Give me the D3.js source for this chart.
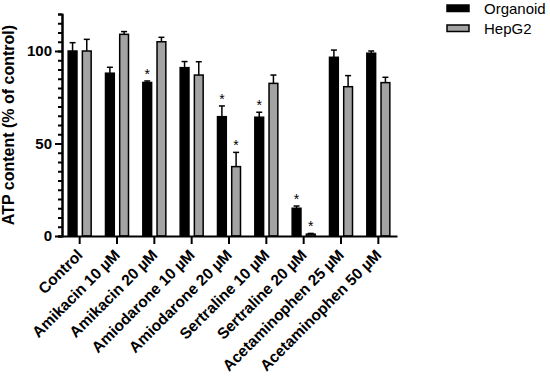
<!DOCTYPE html>
<html>
<head>
<meta charset="utf-8">
<script src="https://cdn.jsdelivr.net/npm/d3@7"></script>
<style>
    body { margin: 0; background: #fff; }
    svg { font-family: Arial, "Liberation Sans", sans-serif; }
    .axis path, .axis line { stroke: #000; stroke-width: 2px; }
    .axis text { font-weight: bold; fill: #000; }
</style>
</head>
<body>
<div id="chart"></div>
<script>
// data
let categories = ["Control", "Amikacin 10 µM", "Amikacin 20 µM", "Amiodarone 10 µM", "Amiodarone 20 µM",
    "Sertraline 10 µM", "Sertraline 20 µM", "Acetaminophen 25 µM", "Acetaminophen 50 µM"];
let seriesNames = ["Organoid", "HepG2"];
let organoid = [100, 88, 83, 91, 64.5, 64.2, 15, 96.6, 98.8];
let organoidErr = [4.5, 3.2, 0.8, 3.3, 5.8, 2.7, 1.2, 3.9, 1.2];
let hepg2 = [100, 109, 105, 87, 37.5, 82.5, 1, 80.7, 82.9];
let hepg2Err = [6.3, 1.5, 2.4, 7.2, 7.7, 4.5, 0.4, 6, 2.9];
let organoidSig = [false, false, true, false, true, true, true, false, false];
let hepg2Sig = [false, false, false, false, true, false, true, false, false];
let yTicks = [0, 50, 100];

let colors = {"Organoid": "#000000", "HepG2": "#a3a3a3"};

let width = 550, height = 377;

let svg = d3.select("#chart").append("svg")
    .attr("width", width)
    .attr("height", height);

// build rows
let rows = [];
categories.forEach((c, i) => {
    rows.push({cat: c, series: "Organoid", value: organoid[i], err: organoidErr[i], sig: organoidSig[i]});
    rows.push({cat: c, series: "HepG2", value: hepg2[i], err: hepg2Err[i], sig: hepg2Sig[i]});
});

// scales
let x = d3.scaleBand()
    .domain(categories)
    .range([61, 397]);

let xSub = d3.scaleBand()
    .domain(seriesNames)
    .range([-11.5, 11.5])
    .paddingInner(0.38);

let y = d3.scaleLinear()
    .domain([0, 120])
    .range([236, 14]);

// bars
svg.selectAll("rect.bar")
    .data(rows)
    .enter()
    .append("rect")
    .attr("class", "bar")
    .attr("x", d => x(d.cat) + x.bandwidth() / 2 + xSub(d.series))
    .attr("y", d => y(d.value))
    .attr("width", xSub.bandwidth())
    .attr("height", d => y(0) - y(d.value))
    .attr("fill", d => colors[d.series])
    .attr("stroke", "#000")
    .attr("stroke-width", 1.5);

// error bars (upper only)
let errG = svg.append("g").attr("stroke", "#000").attr("stroke-width", 1.5);
rows.forEach(d => {
    let cx = x(d.cat) + x.bandwidth() / 2 + xSub(d.series) + xSub.bandwidth() / 2;
    errG.append("line")
        .attr("x1", cx).attr("x2", cx)
        .attr("y1", y(d.value)).attr("y2", y(d.value + d.err));
    errG.append("line")
        .attr("x1", cx - 3).attr("x2", cx + 3)
        .attr("y1", y(d.value + d.err)).attr("y2", y(d.value + d.err));
});

// significance stars
svg.selectAll("text.star")
    .data(rows.filter(d => d.sig))
    .enter()
    .append("text")
    .attr("class", "star")
    .attr("x", d => x(d.cat) + x.bandwidth() / 2 + xSub(d.series) + xSub.bandwidth() / 2)
    .attr("y", d => y(d.value + d.err) - 2)
    .attr("text-anchor", "middle")
    .attr("fill", "#000")
    .style("font-size", "14px")
    .text("*");

// y axis with minor ticks
let yMinor = d3.axisLeft(y).tickValues(d3.range(0, 121, 5)).tickSize(4).tickFormat("");
svg.append("g")
    .attr("class", "axis")
    .attr("transform", "translate(62,0)")
    .call(yMinor)
    .call(g => g.selectAll("line").attr("stroke-width", 1.5));

let yAxis = d3.axisLeft(y).tickValues(yTicks).tickSize(7).tickPadding(3).tickSizeOuter(0);
svg.append("g")
    .attr("class", "axis")
    .attr("transform", "translate(62,0)")
    .call(yAxis)
    .call(g => g.selectAll("text").style("font-size", "15px"));

// x axis
let xAxis = d3.axisBottom(x).tickSize(8).tickSizeOuter(0).tickFormat("");
svg.append("g")
    .attr("class", "axis x-axis")
    .attr("transform", "translate(0,236)")
    .call(xAxis);

svg.append("g")
    .selectAll("text")
    .data(categories)
    .enter()
    .append("text")
    .attr("transform", d => `translate(${x(d) + x.bandwidth() / 2 + 4}, 256) rotate(-45)`)
    .attr("text-anchor", "end")
    .style("font-size", "15.5px")
    .style("font-weight", "bold")
    .text(d => d);

// y axis title
svg.append("text")
    .attr("transform", "translate(14,125) rotate(-90)")
    .attr("text-anchor", "middle")
    .style("font-size", "16px")
    .style("font-weight", "bold")
    .text("ATP content (% of control)");

// legend
let legend = svg.append("g").selectAll("g")
    .data(seriesNames)
    .enter()
    .append("g")
    .attr("transform", (d, i) => `translate(447, ${5 + i * 20})`);

legend.append("rect")
    .attr("width", 22)
    .attr("height", 6.5)
    .attr("fill", d => colors[d])
    .attr("stroke", "#000")
    .attr("stroke-width", 1.5);

legend.append("text")
    .attr("x", 37)
    .attr("y", 3.5)
    .attr("dy", "0.35em")
    .style("font-size", "15px")
    .text(d => d);
</script>
</body>
</html>
